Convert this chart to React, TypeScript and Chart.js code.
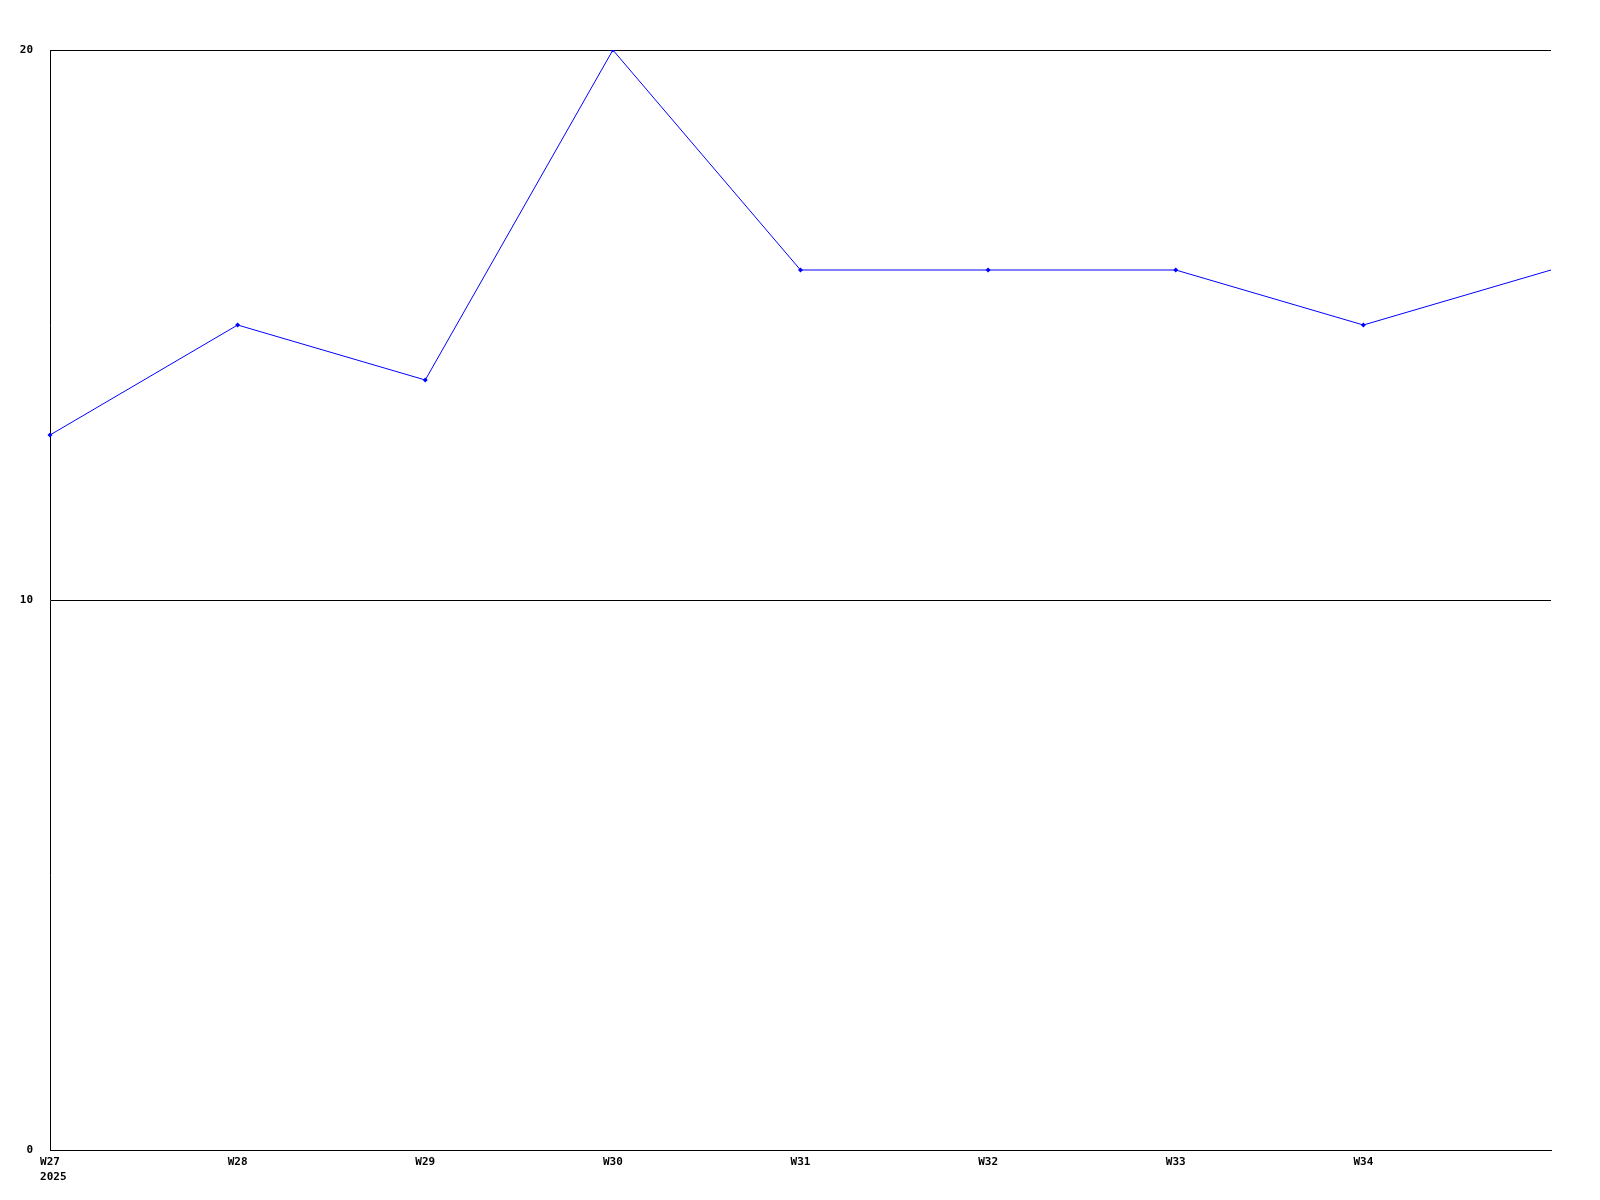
import React, { useEffect, useRef } from "react";
import { Chart, registerables } from "chart.js";

Chart.register(...registerables);

const weeks: string[] = ["W27", "W28", "W29", "W30", "W31", "W32", "W33", "W34", ""];
const yearLabel = "2025";
const values: number[] = [13, 15, 14, 20, 16, 16, 16, 15, 16];
const yTicks: number[] = [0, 10, 20];

const FONT_FAMILY = "'DejaVu Sans Mono', monospace";

const yearPlugin = {
  id: "yearPlugin",
  afterDraw(chart: any) {
    const x = chart.scales.x;
    const ctx = chart.ctx;
    const px = x.getPixelForValue(0);
    ctx.save();
    ctx.font = `bold 11px ${FONT_FAMILY}`;
    const w = ctx.measureText(weeks[0]).width;
    ctx.fillStyle = "#000";
    ctx.textAlign = "left";
    ctx.textBaseline = "middle";
    ctx.fillText(yearLabel, px - w / 2, x.top + 27);
    ctx.restore();
  },
};

export default function App() {
  const ref = useRef<HTMLCanvasElement | null>(null);
  useEffect(() => {
    if (!ref.current) return;
    const chart = new Chart(ref.current, {
      type: "line",
      data: {
        labels: weeks,
        datasets: [
          {
            data: values,
            borderColor: "#0000ff",
            backgroundColor: "#0000ff",
            borderWidth: 1,
            pointStyle: "rectRot",
            pointRadius: values.map((_, i) => (i === values.length - 1 ? 0 : 2.5)),
            pointBorderWidth: 0,
            tension: 0,
            fill: false,
          },
        ],
      },
      plugins: [yearPlugin],
      options: {
        animation: false,
        responsive: false,
        maintainAspectRatio: false,
        layout: { padding: { left: 0, right: 49, top: 50, bottom: 0 } },
        plugins: { legend: { display: false }, tooltip: { enabled: false } },
        scales: {
          x: {
            type: "category",
            offset: false,
            grid: { display: false, drawTicks: false },
            border: { display: true, color: "#000", width: 1 },
            ticks: {
              color: "#000",
              font: { family: FONT_FAMILY, size: 11, weight: "bold" },
              padding: 6,
              maxRotation: 0,
              autoSkip: false,
            },
            afterFit(scale: any) {
              scale.height = 50;
            },
          },
          y: {
            min: 0,
            max: 20,
            afterBuildTicks(scale: any) {
              scale.ticks = yTicks.map((v) => ({ value: v }));
            },
            grid: { color: "#000", lineWidth: 1, drawTicks: false },
            border: { display: true, color: "#000", width: 1 },
            ticks: {
              color: "#000",
              font: { family: FONT_FAMILY, size: 11, weight: "bold" },
              padding: 17,
            },
            afterFit(scale: any) {
              scale.width = 50;
            },
          },
        },
      },
    });
    return () => chart.destroy();
  }, []);
  return (
    <div style={{ position: "absolute", left: 0, top: 0, width: 1600, height: 1200, background: "#fff" }}>
      <canvas ref={ref} width={1600} height={1200} style={{ width: 1600, height: 1200 }} />
    </div>
  );
}
